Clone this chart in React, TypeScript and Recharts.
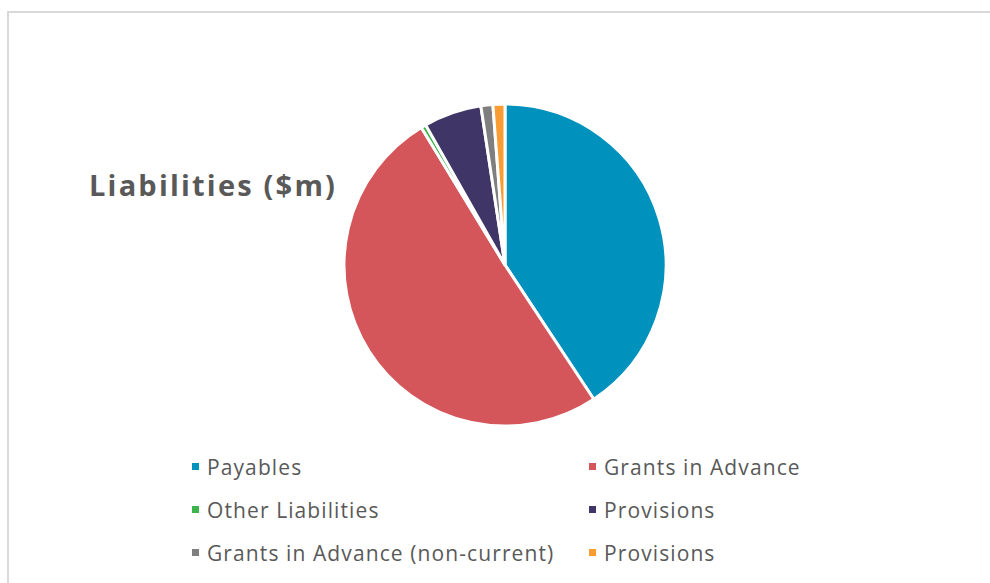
import React from 'react';
import { PieChart, Pie, Cell, Legend } from 'recharts';

const categories = [
  'Payables',
  'Grants in Advance',
  'Other Liabilities',
  'Provisions',
  'Grants in Advance (non-current)',
  'Provisions',
];
const values = [40.7, 50.6, 0.5, 5.8, 1.2, 1.2];
const colors = ['#0091BD', '#D4555A', '#3CB44B', '#3F3566', '#7F7F7F', '#F89C33'];

const data = categories.map((name, i) => ({ name, value: values[i], key: `s${i}` }));

// recharts merges the two "Provisions" entries, so the legend is drawn from the arrays
function TwoColLegend() {
  return (
    <div
      style={{
        display: 'grid',
        gridTemplateColumns: '397px 300px',
        fontFamily: '"Open Sans", sans-serif',
        fontSize: 21,
        letterSpacing: 1.1,
        color: '#595959',
      }}
    >
      {categories.map((name, i) => (
        <div key={i} style={{ display: 'flex', alignItems: 'center', height: 43, whiteSpace: 'nowrap' }}>
          <span style={{ width: 7, height: 7, background: colors[i], display: 'inline-block', marginRight: 8 }} />
          <span>{name}</span>
        </div>
      ))}
    </div>
  );
}

export default function App() {
  return (
    <div style={{ position: 'absolute', left: 0, top: 0, width: 990, height: 583, overflow: 'hidden', background: '#fff' }}>
      <div
        style={{
          position: 'absolute',
          left: 7,
          top: 11,
          width: 1000,
          height: 600,
          border: '2px solid #d9d9d9',
          boxSizing: 'border-box',
        }}
      />
      <div
        style={{
          position: 'absolute',
          left: 89,
          top: 165,
          fontFamily: '"Open Sans", sans-serif',
          fontWeight: 700,
          fontSize: 29,
          letterSpacing: 2.2,
          color: '#595959',
          whiteSpace: 'nowrap',
        }}
      >
        Liabilities ($m)
      </div>
      <div style={{ position: 'absolute', left: 0, top: 0 }}>
        <PieChart width={990} height={583} margin={{ top: 0, right: 0, bottom: 0, left: 0 }}>
          <Pie
            data={data}
            dataKey="value"
            nameKey="name"
            cx={505}
            cy={265}
            outerRadius={161}
            startAngle={90}
            endAngle={-270}
            stroke="#fff"
            strokeWidth={3}
            isAnimationActive={false}
          >
            {data.map((d, i) => (
              <Cell key={d.key} fill={colors[i]} />
            ))}
          </Pie>
          <Legend
            content={<TwoColLegend />}
            wrapperStyle={{ position: 'absolute', left: 192, top: 445, width: 700 }}
          />
        </PieChart>
      </div>
    </div>
  );
}
